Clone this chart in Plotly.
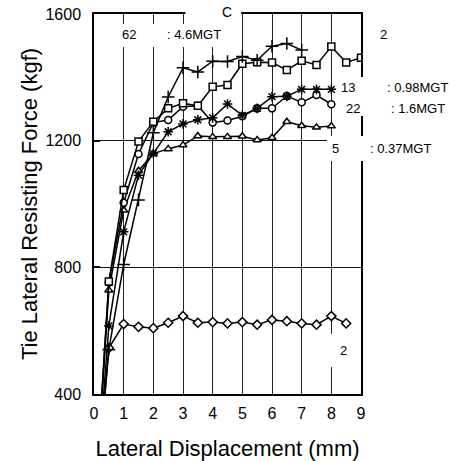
import plotly.graph_objects as go

# ---- data ----
x_plus = [0, 0.5, 1, 1.5, 2, 2.5, 3, 3.5, 4, 4.5, 5, 5.5, 6, 6.5, 7]
y_plus = [0, 540, 809, 1013, 1225, 1338, 1430, 1417, 1451, 1450, 1466, 1454, 1498, 1507, 1486]

x_square = [0, 0.5, 1, 1.5, 2, 2.5, 3, 3.5, 4, 4.5, 5, 5.5, 6, 6.5, 7, 7.5, 8, 8.5, 9]
y_square = [0, 755, 1044, 1197, 1260, 1302, 1318, 1310, 1370, 1376, 1443, 1448, 1447, 1423, 1452, 1439, 1497, 1447, 1462]

x_star = [0, 0.5, 1, 1.5, 2, 2.5, 3, 3.5, 4, 4.5, 5, 5.5, 6, 6.5, 7, 7.5, 8]
y_star = [0, 615, 912, 1091, 1160, 1228, 1253, 1266, 1272, 1316, 1280, 1302, 1339, 1340, 1362, 1362, 1362]

x_circle = [0, 0.5, 1, 1.5, 2, 2.5, 3, 3.5, 4, 4.5, 5, 5.5, 6, 6.5, 7, 7.5, 8]
y_circle = [0, 752, 1004, 1158, 1257, 1265, 1307, 1310, 1257, 1264, 1277, 1302, 1302, 1341, 1321, 1344, 1315]

x_tri = [0, 0.5, 1, 1.5, 2, 2.5, 3, 3.5, 4, 4.5, 5, 5.5, 6, 6.5, 7, 7.5, 8]
y_tri = [0, 728, 980, 1105, 1159, 1174, 1186, 1215, 1212, 1212, 1214, 1202, 1209, 1260, 1247, 1242, 1246]

x_diam = [0, 0.5, 1, 1.5, 2, 2.5, 3, 3.5, 4, 4.5, 5, 5.5, 6, 6.5, 7, 7.5, 8, 8.5]
y_diam = [0, 545, 621, 612, 608, 625, 646, 625, 627, 623, 627, 619, 634, 630, 623, 619, 646, 623]

x_ticks = [0, 1, 2, 3, 4, 5, 6, 7, 8, 9]
y_ticks = [400, 800, 1200, 1600]

FONT = "Liberation Sans, Arial, sans-serif"

fig = go.Figure()

def add(xs, ys, symbol, size, fill="white"):
    fig.add_trace(go.Scatter(
        x=xs, y=ys, mode="lines+markers",
        line=dict(color="black", width=1.5),
        marker=dict(symbol=symbol, size=size, color=fill,
                    line=dict(color="black", width=1.5)),
        showlegend=False))

add(x_diam, y_diam, "diamond", 7)
add(x_tri, y_tri, "triangle-up", 7)
add(x_circle, y_circle, "circle", 7)
add(x_star, y_star, "asterisk-open", 8, "black")
add(x_square, y_square, "square", 7)
add(x_plus, y_plus, "cross-thin-open", 9, "black")

# plot-area pixel geometry helpers (for label/box placement)
L, R, T, B = 93.5, 361.0, 14.0, 394.0
def px(x, y):
    return (x - L) / (R - L), (B - y) / (B - T)

shapes = []
def box(x0, y0, x1, y1):
    a0, b0 = px(x0, y1)
    a1, b1 = px(x1, y0)
    shapes.append(dict(type="rect", xref="paper", yref="paper",
                       x0=a0, y0=b0, x1=a1, y1=b1, layer="above",
                       fillcolor="white", line=dict(width=0)))

box(185, 0, 241, 24)
box(118, 24, 233, 47)
box(339, 77, 386, 116)
box(327, 136, 366, 161)
box(330, 334, 358, 367)

annots = []
def label(text, x, y, size=13):
    a, b = px(x, y)
    annots.append(dict(text=text, x=a, y=b, xref="paper", yref="paper",
                       xanchor="center", yanchor="middle", showarrow=False,
                       font=dict(family=FONT, size=size, color="black")))

label("C", 226.7, 12.5, 14)
label("62", 128.3, 35)
label(": 4.6MGT", 193.3, 35)
label("2", 383.3, 35)
label("13", 348.3, 87.3)
label(": 0.98MGT", 417.3, 87.3)
label("22", 352.7, 108.3)
label(": 1.6MGT", 418.3, 108.3)
label("5", 335, 148.3)
label(": 0.37MGT", 400.8, 148.3)
label("2", 343.3, 350.7)

fig.update_layout(
    width=454, height=461,
    margin=dict(l=L, r=454 - R, t=T, b=461 - B, autoexpand=False),
    paper_bgcolor="white", plot_bgcolor="white",
    font=dict(family=FONT, color="black"),
    shapes=shapes, annotations=annots,
    xaxis=dict(range=[0, 9], tickvals=x_ticks, ticktext=[str(v) for v in x_ticks],
               showgrid=True, gridcolor="#222", gridwidth=1,
               showline=True, linecolor="black", linewidth=2, mirror=True,
               ticks="", zeroline=False, ticklabelstandoff=4, automargin=False,
               tickfont=dict(family=FONT, size=16),
               title=dict(text="Lateral Displacement (mm)",
                          font=dict(family=FONT, size=22), standoff=19)),
    yaxis=dict(range=[400, 1600], tickvals=y_ticks, ticktext=[str(v) for v in y_ticks],
               showgrid=True, gridcolor="#111", gridwidth=1,
               showline=True, linecolor="black", linewidth=1.5, mirror=True,
               ticks="inside", ticklen=6, tickwidth=2, tickcolor="black",
               zeroline=False, ticklabelstandoff=8, automargin=False,
               tickfont=dict(family=FONT, size=16),
               title=dict(text="Tie Lateral Resisting Force (kgf)",
                          font=dict(family=FONT, size=22), standoff=2)),
)

fig.write_html("out.html")
